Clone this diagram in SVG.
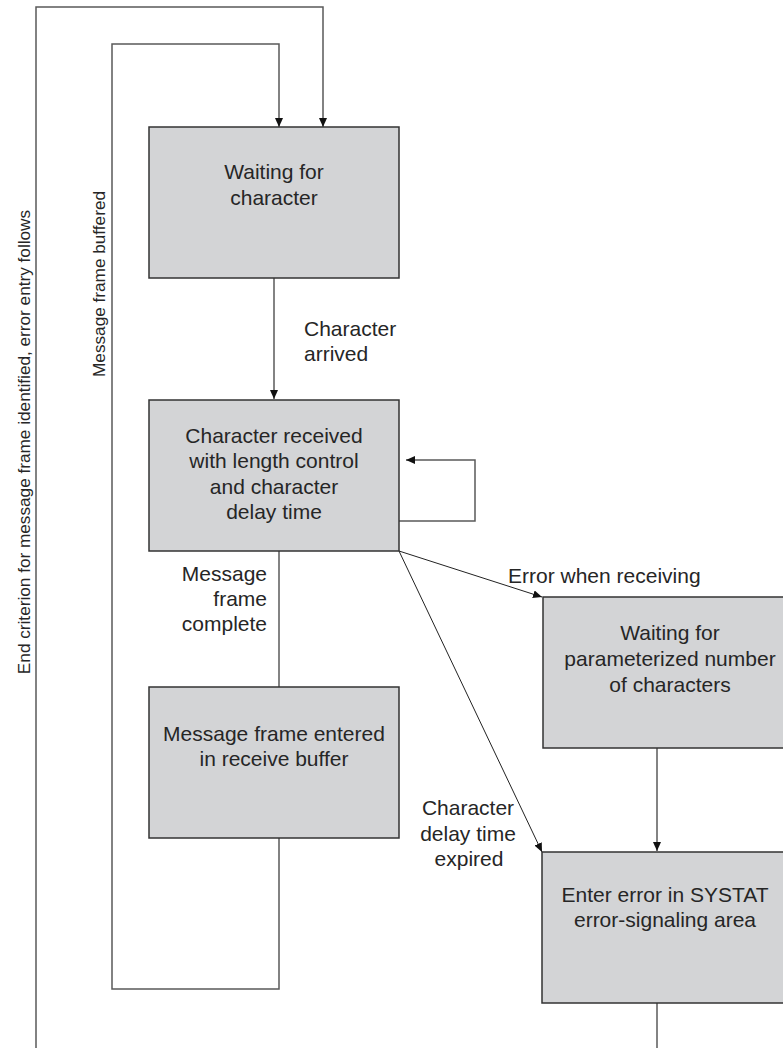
<svg xmlns="http://www.w3.org/2000/svg" width="783" height="1048" viewBox="0 0 783 1048">
<style>
.box{fill:#d3d4d6;stroke:#333;stroke-width:1.5}
.t{font-family:"Liberation Sans",Arial,sans-serif;font-size:21px;fill:#262626}
.c{text-anchor:middle}
.r{text-anchor:end}
.v{font-family:"Liberation Sans",Arial,sans-serif;font-size:17.2px;fill:#262626;text-anchor:middle}
.ln{fill:none;stroke:#5a5a5a;stroke-width:1.5}
.dg{fill:none;stroke:#222;stroke-width:1}
</style>
<defs>
<marker id="ah" markerUnits="userSpaceOnUse" markerWidth="10" markerHeight="8" refX="9" refY="4" orient="auto">
<path d="M0,0 L9,4 L0,8 Z" fill="#111"/>
</marker>
</defs>
<rect width="783" height="1048" fill="#fff"/>
<g id="connectors">
<polyline class="ln" points="36,1048 36,7 323,7 323,127" marker-end="url(#ah)"/>
<polyline class="ln" points="279,838 279,989 112,989 112,44 279,44 279,127" marker-end="url(#ah)"/>
<line class="ln" x1="274" y1="278" x2="274" y2="399" marker-end="url(#ah)"/>
<polyline class="ln" points="399,521 475,521 475,460 406,460" marker-end="url(#ah)"/>
<line class="ln" x1="279" y1="551" x2="279" y2="687"/>
<line class="dg" x1="399" y1="551" x2="542" y2="597" marker-end="url(#ah)"/>
<line class="dg" x1="399" y1="551" x2="542" y2="852" marker-end="url(#ah)"/>
<line class="ln" x1="657" y1="748" x2="657" y2="851" marker-end="url(#ah)"/>
<line class="ln" x1="657" y1="1003" x2="657" y2="1048"/>
<text class="t" x="304" y="336">Character</text>
<text class="t" x="304" y="361">arrived</text>
<text class="t r" x="267" y="581">Message</text>
<text class="t r" x="267" y="606">frame</text>
<text class="t r" x="267" y="631">complete</text>
<text class="t" x="508" y="583">Error when receiving</text>
<text class="t c" x="468" y="815">Character</text>
<text class="t c" x="468" y="840.5">delay time</text>
<text class="t c" x="469" y="866">expired</text>
<text class="v" transform="translate(29.5,442) rotate(-90)">End criterion for message frame identified, error entry follows</text>
<text class="v" transform="translate(105,284) rotate(-90)">Message frame buffered</text>
</g>
<g id="n1">
<rect class="box" x="149" y="127" width="250" height="151"/>
<text class="t c" x="274" y="179">Waiting for</text>
<text class="t c" x="274" y="204.5">character</text>
</g>
<g id="n2">
<rect class="box" x="149" y="400" width="250" height="151"/>
<text class="t c" x="274" y="442.5">Character received</text>
<text class="t c" x="274" y="468">with length control</text>
<text class="t c" x="274" y="493.5">and character</text>
<text class="t c" x="274" y="519">delay time</text>
</g>
<g id="n3">
<rect class="box" x="149" y="687" width="250" height="151"/>
<text class="t c" x="274" y="740.5">Message frame entered</text>
<text class="t c" x="274" y="766">in receive buffer</text>
</g>
<g id="n4">
<rect class="box" x="543" y="597" width="252" height="151"/>
<text class="t c" x="670" y="640">Waiting for</text>
<text class="t c" x="670" y="666">parameterized number</text>
<text class="t c" x="670" y="691.5">of characters</text>
</g>
<g id="n5">
<rect class="box" x="542" y="852" width="252" height="151"/>
<text class="t c" x="665" y="901.5">Enter error in SYSTAT</text>
<text class="t c" x="665" y="927">error-signaling area</text>
</g>
</svg>
